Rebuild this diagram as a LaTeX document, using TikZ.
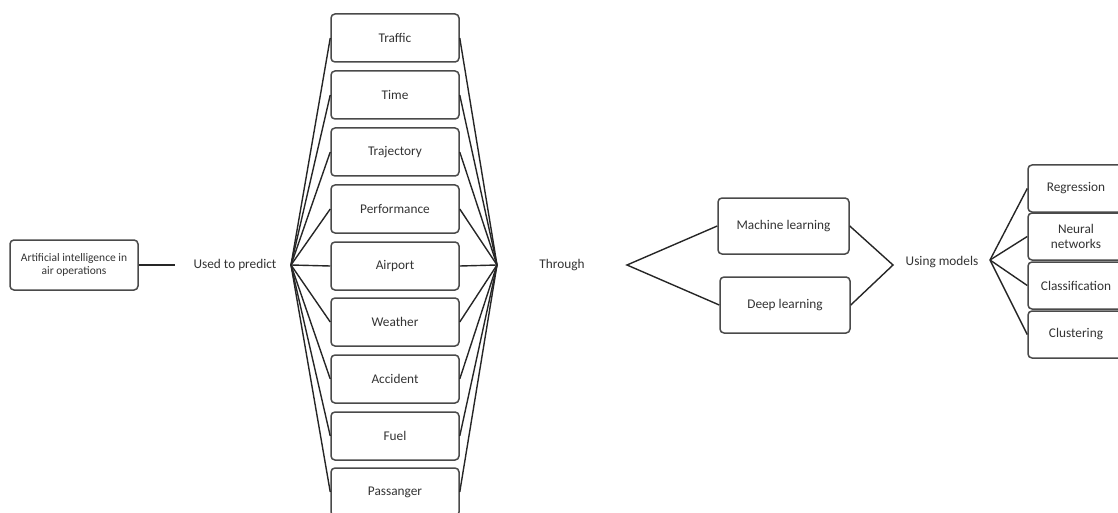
\documentclass[tikz,border=0pt]{standalone}
\usepackage{fontspec}
\setmainfont{Carlito}
\definecolor{boxline}{HTML}{4A4A4A}
\definecolor{conn}{HTML}{262626}
\definecolor{txt}{HTML}{333333}
\begin{document}
\begin{tikzpicture}[x=1pt,y=-1pt,
  box/.style={draw=boxline, line width=1.5pt, rounded corners=4pt, rectangle, inner sep=0pt, align=center, text=txt, font=\fontsize{13.3}{15}\selectfont},
  lbl/.style={inner sep=0pt, text=txt, font=\fontsize{13.3}{15}\selectfont},
  conn/.style={draw=conn, line width=1.4pt}]
\useasboundingbox (0,0) rectangle (1118,513);
\clip (0,0) rectangle (1118,513);
% left
\node[box, minimum width=128pt, minimum height=50pt, font=\fontsize{11.5}{12.5}\selectfont] (ai) at (74,265) {Artificial intelligence in\\air operations};
\coordinate (aiend) at (175,265);
\node[lbl] (used) at (235,265) {Used to predict};
\coordinate (fanL) at (291,265);
\coordinate (fanR) at (497,265);
% middle column
\foreach \n/\t/\y in {traffic/Traffic/38, time/Time/95, traj/Trajectory/152, perf/Performance/209, airport/Airport/266, weather/Weather/322, accident/Accident/379, fuel/Fuel/436, pass/Passanger/492}{
  \node[box, minimum width=128pt, minimum height=48pt] (\n) at (395,\y) {\t};
  \draw[conn] (fanL) -- (\n.west);
  \draw[conn] (\n.east) -- (fanR);
}
\draw[conn] (ai.east) -- (aiend);
\node[lbl] (through) at (562,265) {Through};
\coordinate (fanT) at (627,265);
\node[box, minimum width=131pt, minimum height=56pt] (ml) at (783.5,226) {Machine learning};
\node[box, minimum width=130pt, minimum height=56pt] (dl) at (785,305) {Deep learning};
\draw[conn] (ml.west) -- (fanT) -- (dl.west);
\coordinate (fanU) at (893,265);
\draw[conn] (ml.east) -- (fanU) -- (dl.east);
\node[lbl] (using) at (942,262) {Using models};
\coordinate (fanM) at (990,260);
\foreach \n/\t/\y in {reg/Regression/188.5, nn/{Neural\\networks}/236.5, cls/Classification/285.5, clu/Clustering/334.5}{
  \node[box, minimum width=96pt, minimum height=47pt] (\n) at (1076,\y) {\t};
  \draw[conn] (fanM) -- (\n.west);
}
\end{tikzpicture}
\end{document}
